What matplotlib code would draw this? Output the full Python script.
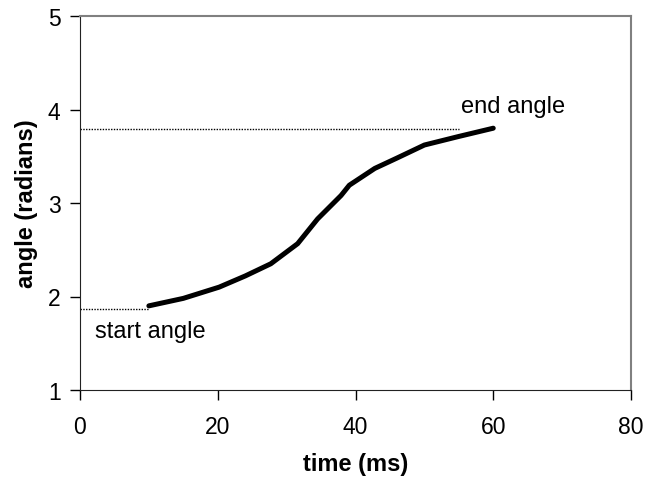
import matplotlib
matplotlib.use("Agg")
import matplotlib.pyplot as plt

plt.rcParams["font.family"] = ["Liberation Sans", "DejaVu Sans"]

# angle vs time
time_ms = [10, 15, 20.2, 24, 27.7, 31.6, 34.5, 37.9, 39.1, 42.8, 46, 50, 54.9, 60]
angle = [1.90, 1.98, 2.10, 2.22, 2.35, 2.565, 2.83, 3.08, 3.19, 3.37, 3.48, 3.62, 3.71, 3.80]

start_angle = 1.87
end_angle = 3.79
x_ticks = [0, 20, 40, 60, 80]
y_ticks = [1, 2, 3, 4, 5]

fig = plt.figure(figsize=(6.45, 4.81), dpi=100)
ax = fig.add_axes([80 / 645, 90 / 481, 551 / 645, 374 / 481])

ax.plot(time_ms, angle, color="black", lw=3.6, solid_capstyle="round", solid_joinstyle="round")
ax.plot([0, time_ms[0]], [start_angle, start_angle], color="black", lw=1, ls=(0, (1, 1)))
ax.plot([0, 55], [end_angle, end_angle], color="black", lw=1, ls=(0, (1, 1)))

ax.text(2.2, 1.57, "start angle", fontsize=17, va="baseline", ha="left")
ax.text(55.3, 3.97, "end angle", fontsize=17, va="baseline", ha="left")

ax.set_xlim(0, 80)
ax.set_ylim(1, 5)
ax.set_xticks(x_ticks)
ax.set_yticks(y_ticks)
ax.tick_params(direction="out", length=7, width=1, labelsize=16.5, pad=11)
ax.tick_params(axis="y", pad=7)

for side in ["left", "bottom"]:
    ax.spines[side].set_color("#222222")
for side in ["top", "right"]:
    ax.spines[side].set_color("#808080")
    ax.spines[side].set_linewidth(1.5)

ax.set_xlabel("time (ms)", fontsize=17, fontweight="bold", labelpad=10)
ax.set_ylabel("angle (radians)", fontsize=17, fontweight="bold", labelpad=7)

fig.savefig("out.png", dpi=100)
